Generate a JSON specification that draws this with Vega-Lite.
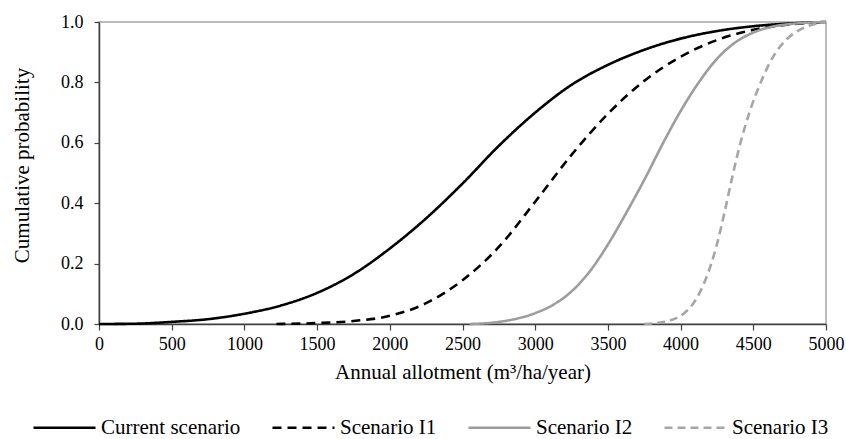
{
  "$schema": "https://vega.github.io/schema/vega-lite/v6.json",
  "autosize": {"type": "none"},
  "width": 727,
  "height": 302,
  "padding": {"left": 99, "top": 22, "right": 20, "bottom": 115},
  "background": "white",
  "config": {
    "font": "Liberation Serif",
    "view": {"stroke": "#a6a6a6", "strokeWidth": 1.5},
    "axis": {
      "labelFont": "Liberation Serif",
      "titleFont": "Liberation Serif",
      "labelColor": "#000000",
      "titleColor": "#000000",
      "titleFontWeight": "normal",
      "labelFontSize": 18,
      "titleFontSize": 21,
      "domainColor": "#404040",
      "tickColor": "#404040",
      "domainWidth": 1.5,
      "tickWidth": 1.2,
      "tickSize": 6,
      "grid": false
    },
    "legend": {
      "labelFont": "Liberation Serif",
      "labelFontSize": 21,
      "labelColor": "#000000"
    }
  },
  "data": {
    "values": [
      {"s": "Current scenario", "x": 0, "y": 0},
      {"s": "Current scenario", "x": 250, "y": 0.001},
      {"s": "Current scenario", "x": 500, "y": 0.007},
      {"s": "Current scenario", "x": 750, "y": 0.016},
      {"s": "Current scenario", "x": 1000, "y": 0.034},
      {"s": "Current scenario", "x": 1250, "y": 0.061},
      {"s": "Current scenario", "x": 1500, "y": 0.103},
      {"s": "Current scenario", "x": 1750, "y": 0.165},
      {"s": "Current scenario", "x": 2000, "y": 0.25},
      {"s": "Current scenario", "x": 2250, "y": 0.35},
      {"s": "Current scenario", "x": 2500, "y": 0.465},
      {"s": "Current scenario", "x": 2750, "y": 0.59},
      {"s": "Current scenario", "x": 3000, "y": 0.7},
      {"s": "Current scenario", "x": 3250, "y": 0.792},
      {"s": "Current scenario", "x": 3500, "y": 0.858},
      {"s": "Current scenario", "x": 3750, "y": 0.908},
      {"s": "Current scenario", "x": 4000, "y": 0.945},
      {"s": "Current scenario", "x": 4250, "y": 0.97},
      {"s": "Current scenario", "x": 4500, "y": 0.986},
      {"s": "Current scenario", "x": 4750, "y": 0.995},
      {"s": "Current scenario", "x": 5000, "y": 1.0},
      {"s": "Scenario I1", "x": 1220, "y": 0},
      {"s": "Scenario I1", "x": 1500, "y": 0.003},
      {"s": "Scenario I1", "x": 1750, "y": 0.01},
      {"s": "Scenario I1", "x": 2000, "y": 0.027},
      {"s": "Scenario I1", "x": 2250, "y": 0.069},
      {"s": "Scenario I1", "x": 2500, "y": 0.145},
      {"s": "Scenario I1", "x": 2750, "y": 0.255},
      {"s": "Scenario I1", "x": 3000, "y": 0.405},
      {"s": "Scenario I1", "x": 3250, "y": 0.56},
      {"s": "Scenario I1", "x": 3500, "y": 0.696},
      {"s": "Scenario I1", "x": 3750, "y": 0.805},
      {"s": "Scenario I1", "x": 4000, "y": 0.885},
      {"s": "Scenario I1", "x": 4250, "y": 0.94},
      {"s": "Scenario I1", "x": 4500, "y": 0.974},
      {"s": "Scenario I1", "x": 4750, "y": 0.992},
      {"s": "Scenario I1", "x": 5000, "y": 1.0},
      {"s": "Scenario I2", "x": 2550, "y": 0},
      {"s": "Scenario I2", "x": 2750, "y": 0.007},
      {"s": "Scenario I2", "x": 3000, "y": 0.036},
      {"s": "Scenario I2", "x": 3125, "y": 0.064},
      {"s": "Scenario I2", "x": 3250, "y": 0.108},
      {"s": "Scenario I2", "x": 3375, "y": 0.174},
      {"s": "Scenario I2", "x": 3500, "y": 0.263},
      {"s": "Scenario I2", "x": 3625, "y": 0.367},
      {"s": "Scenario I2", "x": 3750, "y": 0.477},
      {"s": "Scenario I2", "x": 3875, "y": 0.595},
      {"s": "Scenario I2", "x": 4000, "y": 0.705},
      {"s": "Scenario I2", "x": 4125, "y": 0.8},
      {"s": "Scenario I2", "x": 4250, "y": 0.878},
      {"s": "Scenario I2", "x": 4375, "y": 0.932},
      {"s": "Scenario I2", "x": 4500, "y": 0.965},
      {"s": "Scenario I2", "x": 4625, "y": 0.984},
      {"s": "Scenario I2", "x": 4750, "y": 0.993},
      {"s": "Scenario I2", "x": 5000, "y": 1.0},
      {"s": "Scenario I3", "x": 3750, "y": 0},
      {"s": "Scenario I3", "x": 3850, "y": 0.004},
      {"s": "Scenario I3", "x": 3930, "y": 0.012},
      {"s": "Scenario I3", "x": 4020, "y": 0.034},
      {"s": "Scenario I3", "x": 4100, "y": 0.077},
      {"s": "Scenario I3", "x": 4170, "y": 0.145},
      {"s": "Scenario I3", "x": 4250, "y": 0.264},
      {"s": "Scenario I3", "x": 4300, "y": 0.365},
      {"s": "Scenario I3", "x": 4350, "y": 0.475},
      {"s": "Scenario I3", "x": 4400, "y": 0.578},
      {"s": "Scenario I3", "x": 4480, "y": 0.71},
      {"s": "Scenario I3", "x": 4560, "y": 0.81},
      {"s": "Scenario I3", "x": 4640, "y": 0.888},
      {"s": "Scenario I3", "x": 4730, "y": 0.943},
      {"s": "Scenario I3", "x": 4835, "y": 0.978},
      {"s": "Scenario I3", "x": 5000, "y": 1.0}
    ]
  },
  "mark": {"type": "line", "interpolate": "monotone", "strokeWidth": 2.6},
  "encoding": {
    "x": {
      "field": "x",
      "type": "quantitative",
      "scale": {"domain": [0, 5000], "nice": false},
      "axis": {
        "values": [0, 500, 1000, 1500, 2000, 2500, 3000, 3500, 4000, 4500, 5000],
        "format": "d",
        "title": "Annual allotment (m³/ha/year)",
        "labelPadding": 5,
        "titlePadding": 8,
        "labelFlush": false,
        "labelOverlap": false
      }
    },
    "y": {
      "field": "y",
      "type": "quantitative",
      "scale": {"domain": [0, 1], "nice": false},
      "axis": {
        "values": [0, 0.2, 0.4, 0.6, 0.8, 1.0],
        "format": ".1f",
        "title": "Cumulative probability",
        "labelPadding": 11,
        "tickSize": 5,
        "titleX": -77,
        "titleY": 143,
        "titleBaseline": "middle"
      }
    },
    "color": {
      "field": "s",
      "type": "nominal",
      "title": null,
      "scale": {
        "domain": ["Current scenario", "Scenario I1", "Scenario I2", "Scenario I3"],
        "range": ["#000000", "#000000", "#9d9d9d", "#a6a6a6"]
      },
      "legend": {
        "orient": "none",
        "direction": "horizontal",
        "legendX": -67,
        "legendY": 373,
        "symbolType": "stroke",
        "symbolSize": 3844,
        "symbolStrokeWidth": 2.6,
        "labelOffset": 4,
        "columnPadding": 26
      }
    },
    "strokeDash": {
      "field": "s",
      "type": "nominal",
      "title": null,
      "scale": {
        "domain": ["Current scenario", "Scenario I1", "Scenario I2", "Scenario I3"],
        "range": [[1, 0], [9, 6], [1, 0], [8, 5]]
      }
    }
  }
}
